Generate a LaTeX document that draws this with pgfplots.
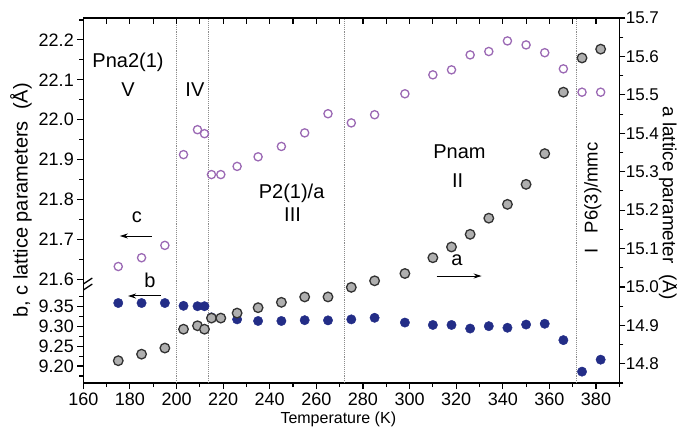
\documentclass[border=0pt]{standalone}
\usepackage{pgfplots}
\pgfplotsset{compat=1.18}
\usepackage{fontspec}
\setmainfont{Liberation Sans}
\usetikzlibrary{arrows.meta}
\definecolor{bdot}{RGB}{35,45,135}
\definecolor{greyfill}{RGB}{175,175,175}
\definecolor{greyedge}{RGB}{50,50,50}
\definecolor{purp}{RGB}{155,105,180}
\definecolor{vline}{RGB}{140,140,140}

\pgfplotstableread{
T b
175 9.358
185 9.358
195 9.358
203 9.351
209 9.350
212 9.350
215 9.322
219 9.320
226 9.317
235 9.313
245 9.313
255 9.315
265 9.3145
275 9.317
285 9.321
298 9.309
310 9.303
318 9.303
326 9.294
334 9.300
342 9.296
350 9.304
358 9.306
366 9.265
374 9.186
382 9.216
}\bdata

\pgfplotstableread{
T c
175 21.632
185 21.654
195 21.685
203 21.9125
209 21.975
212 21.965
215 21.8625
219 21.8625
226 21.883
235 21.907
245 21.933
255 21.967
265 22.015
275 21.992
285 22.0125
298 22.065
310 22.1125
318 22.125
326 22.1625
334 22.171
342 22.1975
350 22.1875
358 22.168
366 22.1275
374 22.069
382 22.069
}\cdata

\pgfplotstableread{
T a
175 14.808
185 14.825
195 14.841
203 14.890
209 14.899
212 14.890
215 14.919
219 14.919
226 14.932
235 14.946
245 14.960
255 14.974
265 14.974
275 14.999
285 15.016
298 15.035
310 15.076
318 15.104
326 15.137
334 15.179
342 15.215
350 15.267
358 15.347
366 15.507
374 15.596
382 15.619
}\adata

\begin{document}
\begin{tikzpicture}
\useasboundingbox (-83.3pt,-51pt) rectangle (593.7pt,383pt);
\pgfplotsset{
  common/.style={
    scale only axis, width=536pt, height=365pt,
    xmin=160, xmax=390,
    axis line style={line width=1.3pt},
    every tick/.style={line width=1.1pt, black},
    major tick length=6pt, minor tick length=4pt,
    /pgf/number format/assume math mode=true,
    every tick label/.append style={font=\fontsize{18}{20}\selectfont},
    label style={font=\fontsize{20}{24}\selectfont},
  }
}
\begin{axis}[common,
  ymin=9.1575, ymax=10.0725,
  axis x line*=bottom, axis y line*=left,
  tick align=outside,
  xtick={160,180,200,220,240,260,280,300,320,340,360,380},
  minor xtick={170,190,210,230,250,270,290,310,330,350,370,390},
  ytick={9.20,9.25,9.30,9.35,9.4175,9.5175,9.6175,9.7175,9.8175,9.9175,10.0175},
  yticklabels={9.20,9.25,9.30,9.35,21.6,21.7,21.8,21.9,22.0,22.1,22.2},
  minor ytick={9.175,9.225,9.275,9.325,9.375,9.4675,9.5675,9.6675,9.7675,9.8675,9.9675,10.0675},
  xlabel={Temperature (K)},
  xlabel style={font=\fontsize{16}{18}\selectfont, xshift=-13pt},
  ylabel={b, c lattice parameters\ \ (Å)},
]
\draw[vline, densely dotted, line width=0.9pt] (axis cs:200,9.1575) -- (axis cs:200,10.0725);
\draw[vline, densely dotted, line width=0.9pt] (axis cs:213.6,9.1575) -- (axis cs:213.6,10.0725);
\draw[vline, densely dotted, line width=0.9pt] (axis cs:272,9.1575) -- (axis cs:272,10.0725);
\draw[vline, densely dotted, line width=0.9pt] (axis cs:371.8,9.1575) -- (axis cs:371.8,10.0725);
\addplot[only marks, mark=*, mark size=4.7pt, mark options={draw=bdot, fill=bdot}] table[x=T,y=b] {\bdata};
\addplot[only marks, mark=o, mark size=4.1pt, mark options={draw=purp, line width=1.3pt}, y filter/.expression={y-12.1825}] table[x=T,y=c] {\cdata};
\begin{scope}[font=\fontsize{20}{24}\selectfont]
\node at (axis cs:179.2,9.962) {Pna2(1)};
\node at (axis cs:179.2,9.892) {V};
\node at (axis cs:207.9,9.892) {IV};
\node at (axis cs:249.4,9.634) {P2(1)/a};
\node at (axis cs:249.8,9.579) {III};
\node at (axis cs:321.4,9.737) {Pnam};
\node at (axis cs:320.6,9.664) {II};
\node at (axis cs:183.0,9.574) {c};
\node at (axis cs:188.6,9.416) {b};
\node at (axis cs:320.3,9.466) {a};
\end{scope}
\node[rotate=90, font=\fontsize{18.5}{22}\selectfont] at (axis cs:378.6,9.621) {I\ \ \ P6(3)/mmc};
\draw[line width=1pt, -{Stealth[length=8pt,width=5pt]}] (axis cs:189.4,9.526) -- (axis cs:175.7,9.526);
\draw[line width=1pt, -{Stealth[length=8pt,width=5pt]}] (axis cs:193.3,9.3756) -- (axis cs:179.2,9.3756);
\draw[line width=1pt, -{Stealth[length=8pt,width=5pt]}] (axis cs:311.6,9.4257) -- (axis cs:330.9,9.4257);
\draw[line width=1.3pt] (axis cs:160,9.408) ++(-3pt,-3pt) -- ++(12pt,8pt);
\draw[line width=1.3pt] (axis cs:160,9.393) ++(-3pt,-3pt) -- ++(12pt,8pt);
\end{axis}
\begin{axis}[common,
  ymin=14.75, ymax=15.7,
  axis x line*=top, axis y line*=right,
  xtick align=inside, ytick align=outside,
  xtick={170,180,190,200,210,220,230,240,250,260,270,280,290,300,310,320,330,340,350,360,370,380},
  xticklabels={},
  ytick={14.8,14.9,15.0,15.1,15.2,15.3,15.4,15.5,15.6,15.7},
  yticklabel style={font=\fontsize{17}{19}\selectfont, xshift=-3pt, /pgf/number format/.cd, fixed, fixed zerofill, precision=1},
  minor ytick={14.75,14.85,14.95,15.05,15.15,15.25,15.35,15.45,15.55,15.65},
]
\addplot[only marks, mark=*, mark size=4.8pt, mark options={draw=greyedge, fill=greyfill, line width=1.3pt}] table[x=T,y=a] {\adata};
\end{axis}
\node[rotate=-90, font=\fontsize{19}{22}\selectfont] at (586pt,180pt) {a lattice parameter\ \ (Å)};
\end{tikzpicture}
\end{document}
